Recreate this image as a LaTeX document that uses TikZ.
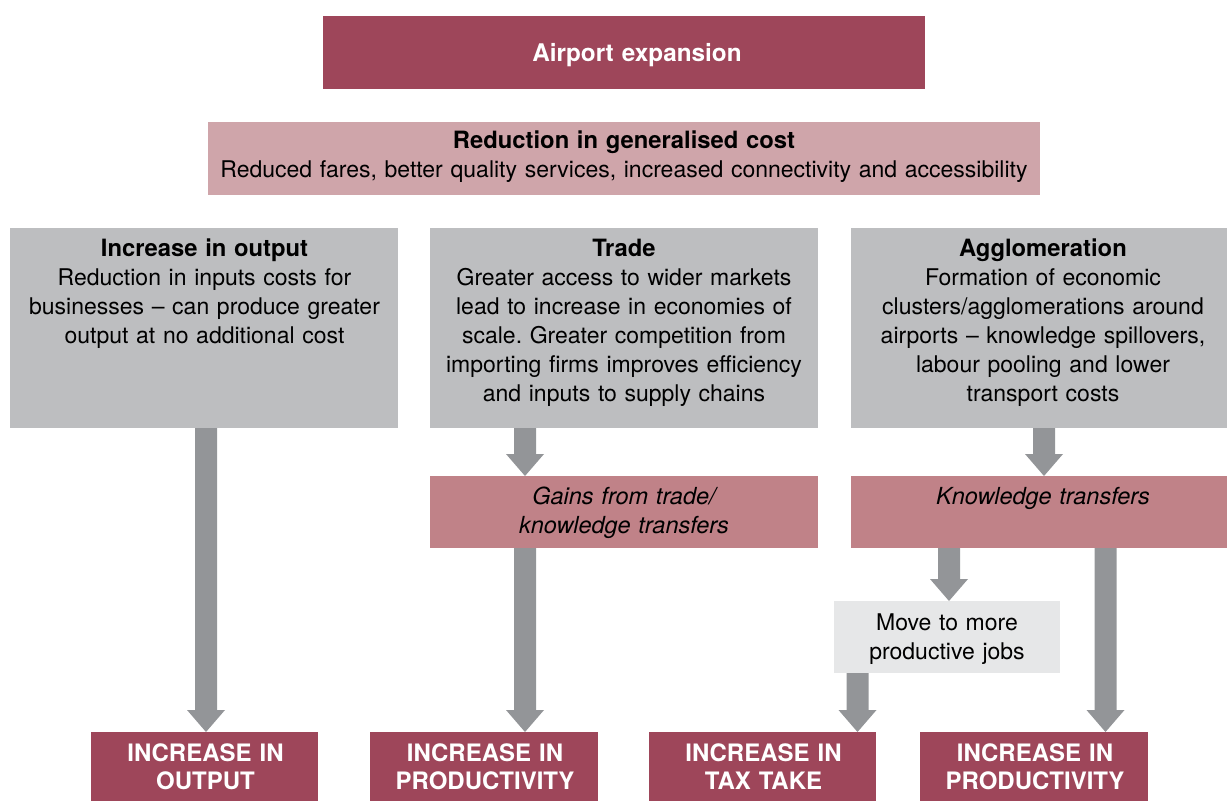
\documentclass[tikz,border=0pt]{standalone}
\usepackage{fontspec}
\setmainfont{TeX Gyre Heros}
\usetikzlibrary{calc}
\frenchspacing
\definecolor{darkred}{RGB}{158,70,90}
\definecolor{lightpink}{RGB}{207,165,170}
\definecolor{midpink}{RGB}{192,130,136}
\definecolor{boxgray}{RGB}{189,190,192}
\definecolor{palegray}{RGB}{230,231,232}
\definecolor{arrowgray}{RGB}{147,149,152}
\newcommand{\flowarrow}[2]{%
  \fill[arrowgray] ($(#1)+(-11,0)$) -- ($(#2)+(-11,-22)$) -- ($(#2)+(-19,-22)$) -- (#2)
    -- ($(#2)+(19,-22)$) -- ($(#2)+(11,-22)$) -- ($(#1)+(11,0)$) -- cycle;}
\newcommand{\boldtitle}[1]{{\fontsize{23.8}{29}\selectfont\bfseries #1}}
\begin{document}
\begin{tikzpicture}[x=1pt,y=-1pt,
  boxbase/.style={draw=none,inner sep=0pt,outer sep=0pt,anchor=north west},
  txt/.style={inner sep=0pt,outer sep=0pt,anchor=base,align=center,text width=#1,
    font=\fontsize{23}{29}\selectfont},
  ittxt/.style={txt=#1,font=\fontsize{23.5}{29}\selectfont\itshape},
  captxt/.style={inner sep=0pt,outer sep=0pt,anchor=base,align=center,text width=#1,
    text=white,font=\fontsize{24}{28}\selectfont\bfseries}]
\useasboundingbox (0,0) rectangle (1227,801);
\clip (0,0) rectangle (1227,801);

% boxes
\node[boxbase,fill=darkred,minimum width=602pt,minimum height=73pt] (air) at (323,16) {};
\node[boxbase,fill=lightpink,minimum width=832pt,minimum height=73pt] (red) at (208,122) {};
\node[boxbase,fill=boxgray,minimum width=388pt,minimum height=200pt] (g1) at (10,228) {};
\node[boxbase,fill=boxgray,minimum width=388pt,minimum height=200pt] (g2) at (430,228) {};
\node[boxbase,fill=boxgray,minimum width=388pt,minimum height=200pt] (g3) at (851,228) {};
\node[boxbase,fill=midpink,minimum width=388pt,minimum height=72pt] (gains) at (430,476) {};
\node[boxbase,fill=midpink,minimum width=388pt,minimum height=72pt] (know) at (851,476) {};
\node[boxbase,fill=palegray,minimum width=226pt,minimum height=72pt] (move) at (834,601) {};
\node[boxbase,fill=darkred,minimum width=227pt,minimum height=69pt] (b1) at (91,732) {};
\node[boxbase,fill=darkred,minimum width=228pt,minimum height=69pt] (b2) at (370,732) {};
\node[boxbase,fill=darkred,minimum width=227pt,minimum height=69pt] (b3) at (649,732) {};
\node[boxbase,fill=darkred,minimum width=228pt,minimum height=69pt] (b4) at (920,732) {};

% texts
\node[txt=600pt,text=white,font=\fontsize{24.3}{29}\selectfont\bfseries] (airt) at (637,61) {Airport expansion};
\node[txt=830pt] (redt) at (624,148) {\boldtitle{Reduction in generalised cost}\\Reduced fares, better quality services, increased connectivity and accessibility};
\node[txt=385pt] (g1t) at (204.5,256) {\boldtitle{Increase in output}\\Reduction in inputs costs for\\businesses – can produce greater\\output at no additional cost};
\node[txt=385pt] (g2t) at (624,256) {\boldtitle{Trade}\\Greater access to wider markets\\lead to increase in economies of\\scale. Greater competition from\\importing firms improves efficiency\\and inputs to supply chains};
\node[txt=385pt] (g3t) at (1043,256) {\boldtitle{Agglomeration}\\Formation of economic\\clusters/agglomerations around\\airports – knowledge spillovers,\\labour pooling and lower\\transport costs};
\node[ittxt=385pt] (gainst) at (624,504) {Gains from trade/\\knowledge transfers};
\node[ittxt=385pt] (knowt) at (1043,504) {Knowledge transfers};
\node[txt=224pt] (movet) at (947,630) {Move to more\\productive jobs};
\node[captxt=225pt] (b1t) at (205.5,761) {INCREASE IN\\OUTPUT};
\node[captxt=225pt] (b2t) at (485,761) {INCREASE IN\\PRODUCTIVITY};
\node[captxt=225pt] (b3t) at (763.5,761) {INCREASE IN\\TAX TAKE};
\node[captxt=225pt] (b4t) at (1035,761) {INCREASE IN\\PRODUCTIVITY};

% arrows
\flowarrow{206,0 |- g1.south}{206,0 |- b1.north}
\flowarrow{525,0 |- g2.south}{525,0 |- gains.north}
\flowarrow{525,0 |- gains.south}{525,0 |- b2.north}
\flowarrow{1044,0 |- g3.south}{1044,0 |- know.north}
\flowarrow{949,0 |- know.south}{949,0 |- move.north}
\flowarrow{857.5,0 |- move.south}{857.5,0 |- b3.north}
\flowarrow{1105.5,0 |- know.south}{1105.5,0 |- b4.north}
\end{tikzpicture}
\end{document}
